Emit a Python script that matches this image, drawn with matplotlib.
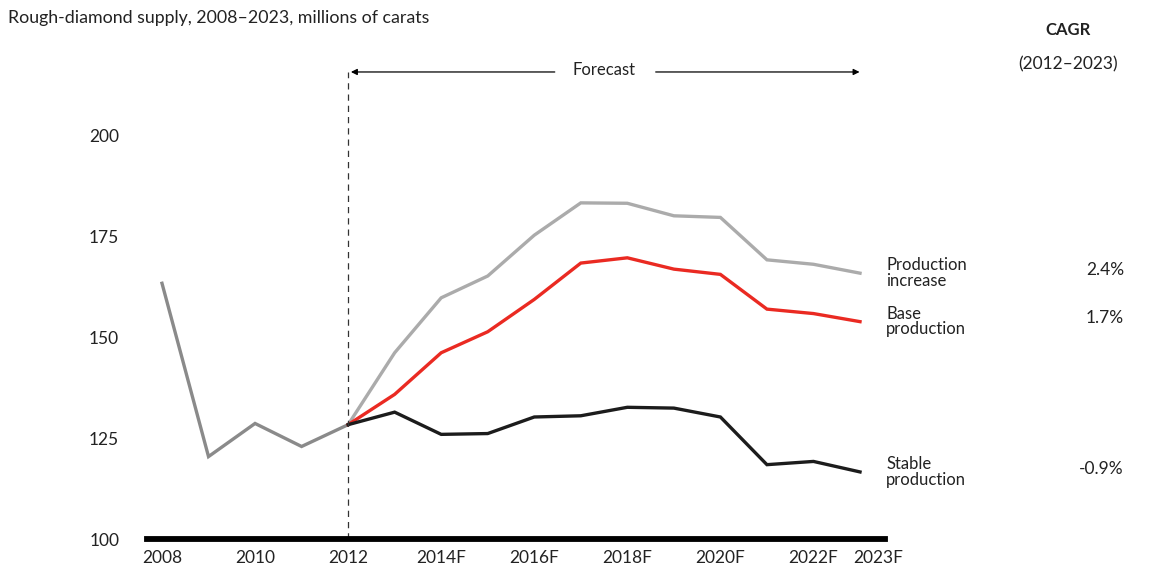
import numpy as np
import matplotlib
matplotlib.use("Agg")
import matplotlib.pyplot as plt
import matplotlib.transforms as mtransforms

plt.rcParams['font.family'] = ['Lato', 'DejaVu Sans']

# data (millions of carats)
hist_years = [2008, 2009, 2010, 2011, 2012]
hist_vals = [163.3, 120.4, 128.6, 122.9, 128.3]

fc_years = list(range(2012, 2024))
prod_increase = [128.3, 146.1, 159.7, 165.1, 175.2, 183.2, 183.1, 180.0, 179.6, 169.1, 168.0, 165.8]
base_prod = [128.3, 135.8, 146.1, 151.3, 159.3, 168.3, 169.6, 166.8, 165.5, 156.9, 155.8, 153.8]
stable_prod = [128.3, 131.4, 125.9, 126.1, 130.2, 130.5, 132.6, 132.4, 130.2, 118.4, 119.2, 116.6]

series_labels = ["Production\nincrease", "Base\nproduction", "Stable\nproduction"]
cagr = ["2.4%", "1.7%", "-0.9%"]

xticks = [2008, 2010, 2012, 2014, 2016, 2018, 2020, 2022, 2023]
xticklabels = ["2008", "2010", "2012", "2014F", "2016F", "2018F", "2020F", "2022F", "2023F"]
yticks = [100, 125, 150, 175, 200]

W, H = 1160, 569
fig = plt.figure(figsize=(W / 100, H / 100), dpi=100)
ax = fig.add_axes([147 / W, 30 / H, 738 / W, 404 / H])

ax.plot(hist_years, hist_vals, color="#8a8a8a", lw=2.4, solid_joinstyle="miter")
ax.plot(fc_years, prod_increase, color="#ababab", lw=2.4, solid_joinstyle="miter")
ax.plot(fc_years, base_prod, color="#ea2a22", lw=2.4, solid_joinstyle="miter")
ax.plot(fc_years, stable_prod, color="#1c1c1c", lw=2.4, solid_joinstyle="miter")

ax.set_xlim(2007.678, 2023.537)
ax.set_ylim(100, 200)

# thick baseline
ax.axhline(100, color="black", lw=4.2, clip_on=False, zorder=5)

# forecast marker
top = 215.6
ax.plot([2012, 2012], [100, top], color="#333333", lw=0.9, ls=(0, (5, 4)), clip_on=False)
ax.annotate("", xy=(2012, top), xytext=(2016.5, top), xycoords="data",
            arrowprops=dict(arrowstyle="-|>", color="black", lw=0.9, mutation_scale=9),
            annotation_clip=False)
ax.annotate("", xy=(2023.05, top), xytext=(2018.55, top), xycoords="data",
            arrowprops=dict(arrowstyle="-|>", color="black", lw=0.9, mutation_scale=9),
            annotation_clip=False)
ax.text(2017.5, top + 0.4, "Forecast", ha="center", va="center", fontsize=12, color="#222222")

# line labels and CAGR values
ends = [prod_increase[-1], base_prod[-1], stable_prod[-1]]
for lab, val, end in zip(series_labels, cagr, ends):
    ax.text(2023.56, end, lab, ha="left", va="center", fontsize=12,
            linespacing=0.95, color="#222222", clip_on=False)
    yfig = ax.transData.transform((0, end))[1] / H
    fig.text(1124 / W, yfig + 0.006, val, ha="right", va="center", fontsize=12.5, color="#222222")

fig.text(1068 / W, 1 - 30 / H, "CAGR", ha="center", va="center", fontsize=12, fontweight="bold", color="#222222")
fig.text(1068 / W, 1 - 64 / H, "(2012\u20132023)", ha="center", va="center", fontsize=12.5, color="#222222")
fig.text(8 / W, 1 - 18 / H, "Rough-diamond supply, 2008\u20132023, millions of carats",
         ha="left", va="center", fontsize=12.8, color="#222222")

ax.set_xticks(xticks)
ax.set_xticklabels(xticklabels, fontsize=12.5, color="#222222")
ax.set_yticks(yticks)
ax.set_yticklabels([str(v) for v in yticks], fontsize=12.5, color="#222222")
ax.tick_params(axis="x", length=0, pad=8)
ax.tick_params(axis="y", length=0, pad=20)
for s in ax.spines.values():
    s.set_visible(False)

# last label sits a bit right of its tick so it clears "2022F"
lbl = ax.get_xticklabels()[-1]
lbl.set_transform(lbl.get_transform() + mtransforms.ScaledTranslation(0.18, 0, fig.dpi_scale_trans))

fig.savefig("out.png", dpi=100)
